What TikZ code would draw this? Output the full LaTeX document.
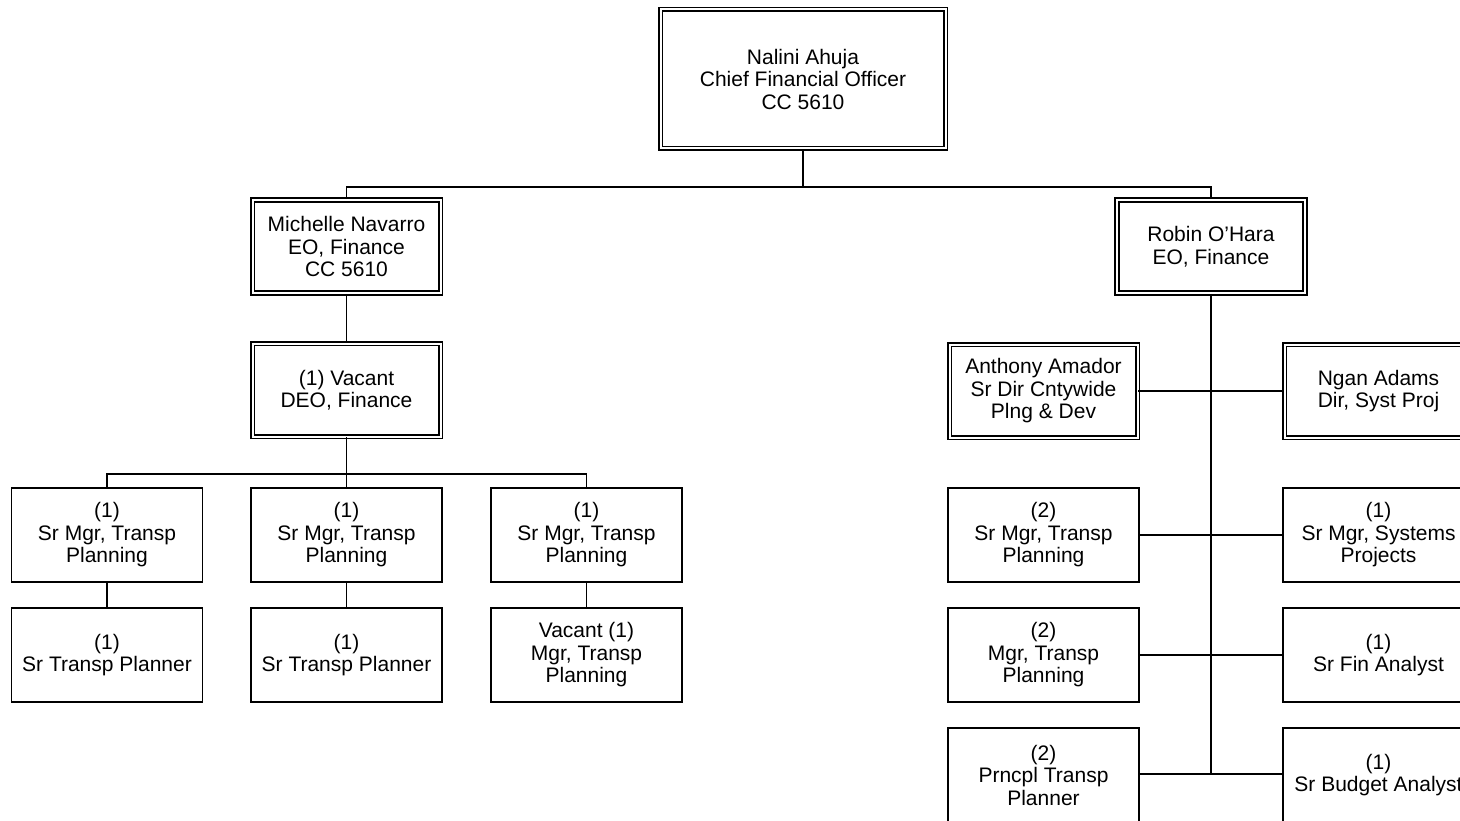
\documentclass[tikz,border=0pt]{standalone}
\usepackage{fontspec}
\setmainfont{Liberation Sans}

\tikzset{
  post/.style={draw, line width=1.8pt, fill=white, align=center, inner sep=0pt,
    minimum width=191pt, minimum height=94pt,
    font=\fontsize{21}{22.5}\selectfont},
  headpost/.style={post, double, double distance=2pt, line width=1.6pt,
    minimum width=188pt, minimum height=93pt},
  link/.style={line width=1.8pt}
}

\begin{document}
\begin{tikzpicture}[x=1pt,y=-1pt]
\useasboundingbox (0,0) rectangle (1460,821);
\clip (0,0) rectangle (1460,821);

% top
\node[headpost, minimum width=285pt, minimum height=139pt] (cfo) at (803,79)
  {Nalini Ahuja\\Chief Financial Officer\\CC 5610};
\node[headpost] (navarro) at (346.5,246.5) {Michelle Navarro\\EO, Finance\\CC 5610};
\node[headpost] (ohara) at (1211,246.5) {Robin O’Hara\\EO, Finance};
\coordinate (bus) at (803,187);
\draw[link] (cfo.south) -- (bus);
\draw[link] (navarro.north) |- (bus) -| (ohara.north);

% left branch
\node[headpost] (deo) at (346.5,390) {(1) Vacant\\DEO, Finance};
\draw[link] (navarro.south) -- (deo.north);
\coordinate (lbus) at (346.5,474);
\foreach \n/\x/\txt in {1/107/{(1)\\Sr Transp Planner},
                        2/346.5/{(1)\\Sr Transp Planner},
                        3/586.5/{Vacant (1)\\Mgr, Transp\\Planning}} {
  \node[post] (srmgr\n) at (\x,535) {(1)\\Sr Mgr, Transp\\Planning};
  \node[post] (planner\n) at (\x,655) {\txt};
  \draw[link] (srmgr\n.south) -- (planner\n.north);
}
\draw[link] (deo.south) -- (lbus);
\draw[link] (srmgr1.north) |- (lbus) -| (srmgr3.north);
\draw[link] (lbus) -- (srmgr2.north);

% right branch
\node[headpost] (amador) at (1043.5,391) {Anthony Amador\\Sr Dir Cntywide\\Plng \& Dev};
\node[headpost] (adams) at (1378.5,391) {Ngan Adams\\Dir, Syst Proj};
\node[post] (tpmgr) at (1043.5,535) {(2)\\Sr Mgr, Transp\\Planning};
\node[post] (sysmgr) at (1378.5,535) {(1)\\Sr Mgr, Systems\\Projects};
\node[post] (mgr) at (1043.5,655) {(2)\\Mgr, Transp\\Planning};
\node[post] (finan) at (1378.5,655) {(1)\\Sr Fin Analyst};
\node[post] (prncpl) at (1043.5,775) {(2)\\Prncpl Transp\\Planner};
\node[post] (budget) at (1378.5,775) {(1)\\Sr Budget Analyst};
\coordinate (trunk) at (1211,774);
\draw[link] (ohara.south) -- (trunk);
\draw[link] (amador.east) -- (adams.west);
\draw[link] (tpmgr.east) -- (sysmgr.west);
\draw[link] (mgr.east) -- (finan.west);
\draw[link] (prncpl.east |- trunk) -- (budget.west |- trunk);
\end{tikzpicture}
\end{document}
